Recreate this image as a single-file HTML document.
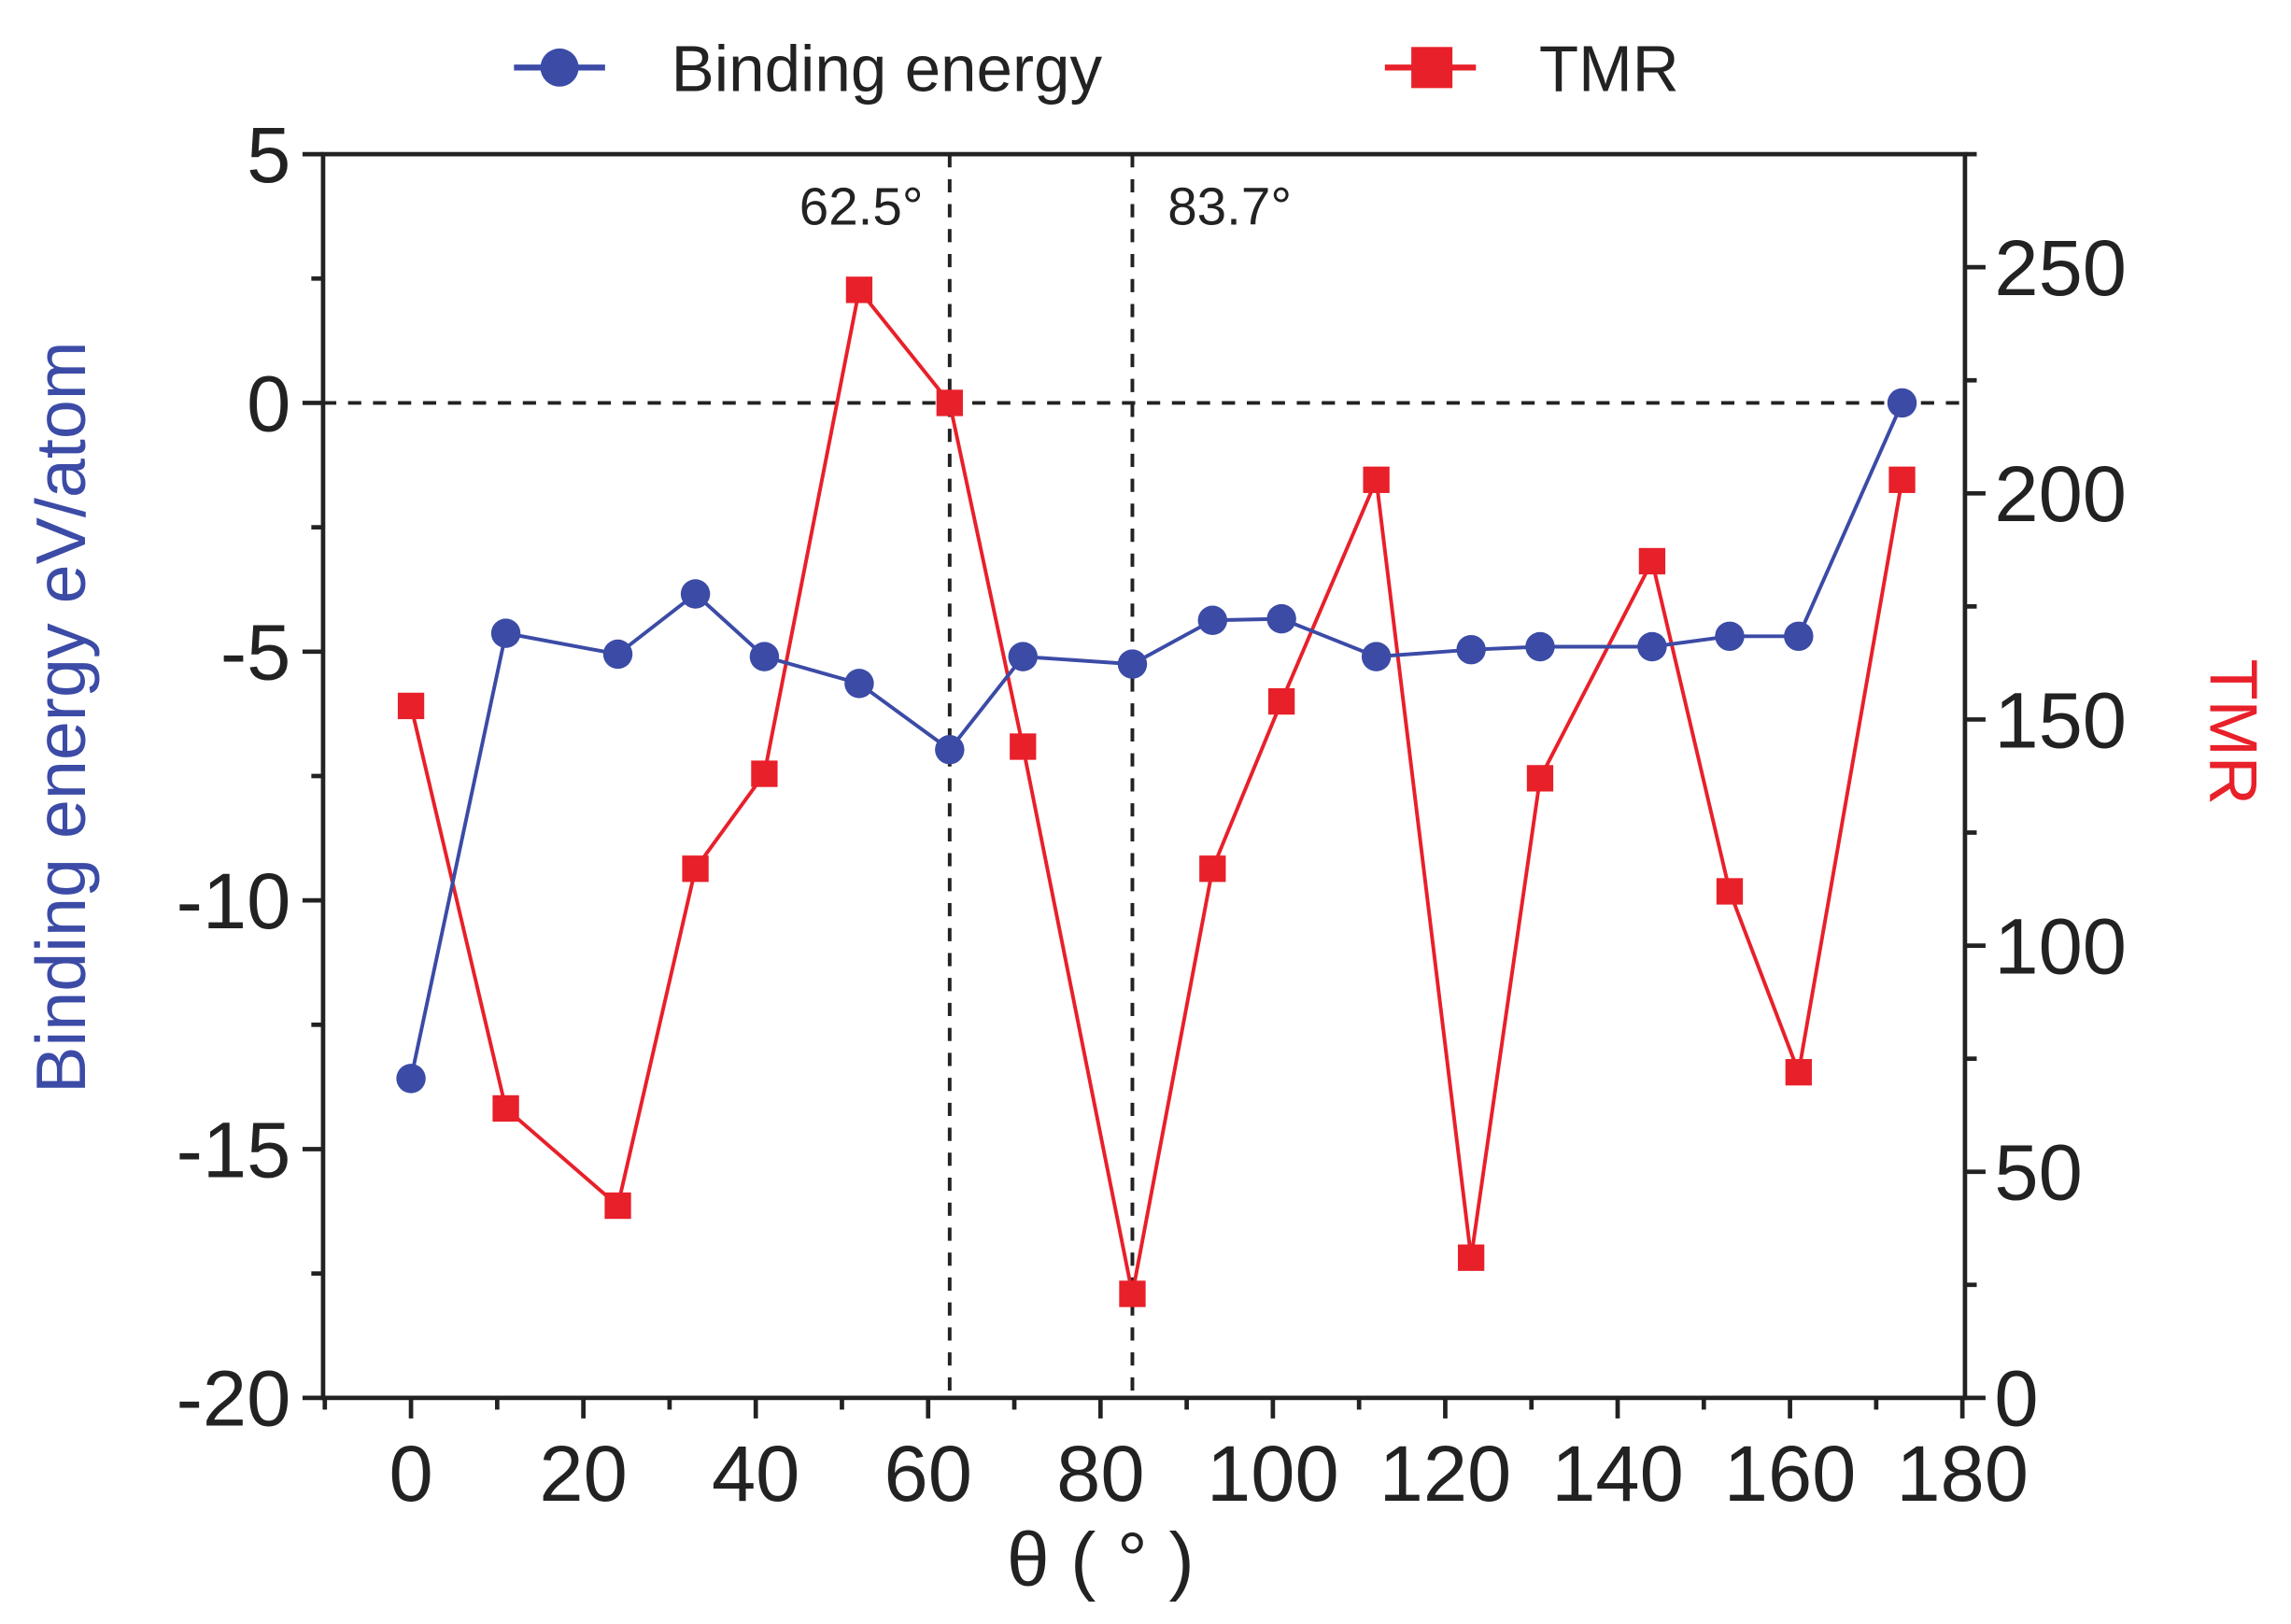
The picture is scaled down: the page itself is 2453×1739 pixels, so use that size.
<!DOCTYPE html>
<html><head><meta charset="utf-8"><style>
html,body{margin:0;padding:0;background:#fff;}
svg{display:block;font-family:"Liberation Sans",Arial,sans-serif;}
</style></head><body>
<svg id="chart" width="2453" height="1739" viewBox="0 0 1560 1106" preserveAspectRatio="none">
<g id="axes"></g>
<g id="marks"></g>
<g id="legend">
  <line x1="350" y1="46" x2="412" y2="46" stroke="#3b4ba6" stroke-width="4"/>
  <circle cx="381" cy="46" r="13" fill="#3b4ba6"/>
  <text x="457" y="62" font-size="44" fill="#222">Binding energy</text>
  <line x1="943" y1="46" x2="1005" y2="46" stroke="#e8202a" stroke-width="4"/>
  <rect x="961" y="32" width="28" height="28" fill="#e8202a"/>
  <text x="1048" y="62" font-size="44" fill="#222">TMR</text>
</g>
</svg>
<script>
const thetas=[0,11,24,33,41,52,62.5,71,83.7,93,101,112,123,131,144,153,161,173];
const bindingEnergy=[-13.58,-4.63,-5.05,-3.84,-5.1,-5.64,-6.97,-5.1,-5.25,-4.37,-4.34,-5.1,-4.96,-4.9,-4.9,-4.69,-4.69,0];
const tmr=[153,64,42.5,117,138,245,220,144,23,117,154,203,31,137,185,112,72,203];
const xTicks=[0,20,40,60,80,100,120,140,160,180];
const yLeftTicks=[5,0,-5,-10,-15,-20];
const yRightTicks=[0,50,100,150,200,250];
const vLines=[62.5,83.7];
const vLabels=["62.5°","83.7°"];

const L=220,R=1338,T=105,B=952;
const xMin=-10.2,xMax=180.3;
const x=v=>L+(v-xMin)/(xMax-xMin)*(R-L);
const yl=v=>T+(5-v)/25*(B-T);
const yr=v=>B-v/275*(B-T);
const NS="http://www.w3.org/2000/svg";
function mk(tag,attrs,parent){const e=document.createElementNS(NS,tag);for(const k in attrs)e.setAttribute(k,attrs[k]);parent.appendChild(e);return e;}
const axes=document.getElementById('axes'),marks=document.getElementById('marks');

let f=mk('rect',{x:L,y:T,width:R-L,height:B-T,fill:'none',stroke:'#222','stroke-width':3},axes);



for(let v=-10;v<=180;v+=10){
  const major=v%20===0;
  mk('line',{x1:x(v),x2:x(v),y1:B,y2:B+(major?14:8),stroke:'#222','stroke-width':3},axes);
}
xTicks.forEach(v=>{
  const t=mk('text',{x:x(v),y:B+70,'font-size':54,'text-anchor':'middle',fill:'#222'},axes);
  t.textContent=v;
  
  
});
for(let v=-20;v<=5;v+=2.5){
  const major=v%5===0;
  mk('line',{x1:L,x2:L-(major?14:8),y1:yl(v),y2:yl(v),stroke:'#222','stroke-width':3},axes);
}
yLeftTicks.forEach(v=>{
  const t=mk('text',{x:L-22,y:yl(v)+19,'font-size':54,'text-anchor':'end',fill:'#222'},axes);
  t.textContent=v;
  
  
});
for(let v=0;v<=275;v+=25){
  const major=v%50===0;
  mk('line',{x1:R,x2:R+(major?14:8),y1:yr(v),y2:yr(v),stroke:'#222','stroke-width':3},axes);
}
yRightTicks.forEach(v=>{
  const t=mk('text',{x:R+20,y:yr(v)+19,'font-size':54,'text-anchor':'start',fill:'#222'},axes);
  t.textContent=v;
  
  
});
let xt=mk('text',{x:x(80),y:1080,'font-size':52,'text-anchor':'middle',fill:'#222'},axes);
xt.textContent='θ ( ° )';


let ylt=mk('text',{transform:`translate(58,${(T+B)/2-40}) rotate(-90)`,'font-size':48,'text-anchor':'middle',fill:'#3b4ba6'},axes);
ylt.textContent='Binding energy eV/atom';


let yrt=mk('text',{transform:`translate(1505,${(T+B)/2-30}) rotate(90)`,'font-size':46,'text-anchor':'middle',fill:'#e8202a'},axes);
yrt.textContent='TMR';



let h=mk('line',{x1:L,x2:R,y1:yl(0),y2:yl(0),stroke:'#222','stroke-width':2.5,'stroke-dasharray':'9,8'},marks);


vLines.forEach((v,i)=>{
  const l=mk('line',{x1:x(v),x2:x(v),y1:T,y2:B,stroke:'#222','stroke-width':2.5,'stroke-dasharray':'9,8'},marks);
  
  
  const t=mk('text',{x:i===0?x(v)-18:x(v)+24,y:153,'font-size':36,'text-anchor':i===0?'end':'start',fill:'#222'},marks);
  t.textContent=vLabels[i];
  
  
});

let p1=mk('polyline',{points:thetas.map((t,i)=>x(t)+','+yr(tmr[i])).join(' '),fill:'none',stroke:'#e8202a','stroke-width':2.5},marks);


thetas.forEach((t,i)=>{
  const r=mk('rect',{x:x(t)-9,y:yr(tmr[i])-9,width:18,height:18,fill:'#e8202a'},marks);
  
  
});
let p2=mk('polyline',{points:thetas.map((t,i)=>x(t)+','+yl(bindingEnergy[i])).join(' '),fill:'none',stroke:'#3b4ba6','stroke-width':2.5},marks);


thetas.forEach((t,i)=>{
  const c=mk('circle',{cx:x(t),cy:yl(bindingEnergy[i]),r:10,fill:'#3b4ba6'},marks);
  
  
});
</script>
</body></html>
